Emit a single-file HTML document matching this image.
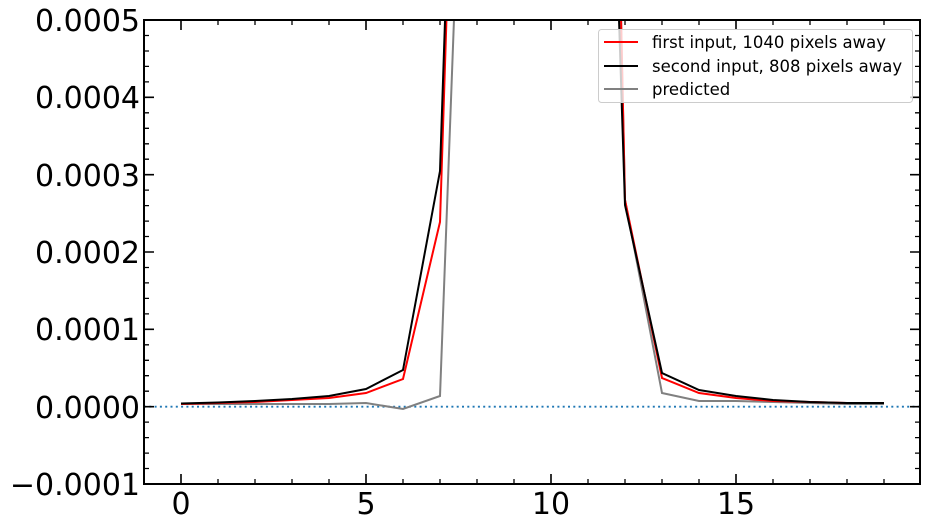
<!DOCTYPE html><html><head><style>body{margin:0;background:#fff}svg{display:block}text{font-family:"DejaVu Sans","Liberation Sans",sans-serif}</style></head><body>
<svg width="930" height="527" xmlns="http://www.w3.org/2000/svg">
<defs><clipPath id="c"><rect x="144" y="20" width="776" height="464"/></clipPath></defs>
<g clip-path="url(#c)" fill="none" stroke-width="2">
<line x1="144" y1="406.7" x2="920" y2="406.7" stroke="#1f77b4" stroke-width="1.8" stroke-dasharray="2,3.3"/>
<polyline stroke="#808080" points="181,404 218,404 255,404 292,404 329,404 366,403 403,409 440,396 477,-600 514,-1500 551,-1500 588,-1500 625,200 662,393 699,401 736,401 773,402 810,403 847,404 884,404"/>
<polyline stroke="#ff0000" points="181,404 218,403 255,402 292,400 329,398 366,393 403,379 440,222 477,-940 514,-1500 551,-1500 588,-1500 625,200 662,378 699,393 736,398 773,401 810,402 847,403 884,403"/>
<polyline stroke="#000" points="181,403.5 218,402.5 255,401 292,399 329,396 366,389 403,370 440,171 477,-940 514,-1500 551,-1500 588,-942 625,205 662,373 699,390 736,396 773,400 810,402 847,403 884,403"/>
</g>
<g stroke="#000" stroke-width="1.3">
<path d="M181,484v-10M366,484v-10M551,484v-10M736,484v-10M181,20v10M366,20v10M551,20v10M736,20v10" stroke-width="1.6"/>
<path d="M218,484v-5M255,484v-5M292,484v-5M329,484v-5M403,484v-5M440,484v-5M477,484v-5M514,484v-5M588,484v-5M625,484v-5M662,484v-5M699,484v-5M773,484v-5M810,484v-5M847,484v-5M884,484v-5M218,20v5M255,20v5M292,20v5M329,20v5M403,20v5M440,20v5M477,20v5M514,20v5M588,20v5M625,20v5M662,20v5M699,20v5M773,20v5M810,20v5M847,20v5M884,20v5"/>
</g>
<g stroke="#000" stroke-width="1.6">
<path d="M144,20h10M144,97.3h10M144,174.7h10M144,252h10M144,329.3h10M144,406.7h10M920,20h-10M920,97.3h-10M920,174.7h-10M920,252h-10M920,329.3h-10M920,406.7h-10"/>
</g>
<g stroke="#000" stroke-width="1.3">
<path d="M144,35.5h5M144,51h5M144,66.4h5M144,81.9h5M144,112.8h5M144,128.3h5M144,143.8h5M144,159.2h5M144,190.1h5M144,205.6h5M144,221.1h5M144,236.5h5M144,267.5h5M144,282.9h5M144,298.4h5M144,313.9h5M144,344.8h5M144,360.3h5M144,375.7h5M144,391.2h5M144,422.1h5M144,437.6h5M144,453.1h5M144,468.5h5
M920,35.5h-5M920,51h-5M920,66.4h-5M920,81.9h-5M920,112.8h-5M920,128.3h-5M920,143.8h-5M920,159.2h-5M920,190.1h-5M920,205.6h-5M920,221.1h-5M920,236.5h-5M920,267.5h-5M920,282.9h-5M920,298.4h-5M920,313.9h-5M920,344.8h-5M920,360.3h-5M920,375.7h-5M920,391.2h-5M920,422.1h-5M920,437.6h-5M920,453.1h-5M920,468.5h-5"/>
</g>
<rect x="144" y="20" width="776" height="464" fill="none" stroke="#000" stroke-width="2"/>
<g font-size="30" fill="#000" text-anchor="end">
<text x="140" y="31">0.0005</text><text x="140" y="108">0.0004</text><text x="140" y="186">0.0003</text><text x="140" y="263">0.0002</text><text x="140" y="340">0.0001</text><text x="140" y="418">0.0000</text><text x="140" y="495">−0.0001</text>
</g>
<g font-size="30" fill="#000" text-anchor="middle">
<text x="181" y="514">0</text><text x="366" y="514">5</text><text x="551" y="514">10</text><text x="736" y="514">15</text>
</g>
<rect x="598.5" y="29.5" width="314" height="73" rx="3" fill="#fff" fill-opacity="0.8" stroke="#ccc"/>
<g stroke-width="2"><line x1="604" y1="42" x2="638" y2="42" stroke="#f00"/><line x1="604" y1="66" x2="638" y2="66" stroke="#000"/><line x1="604" y1="89" x2="638" y2="89" stroke="#808080"/></g>
<g font-size="16.5" fill="#000"><text x="652" y="48">first input, 1040 pixels away</text><text x="652" y="72">second input, 808 pixels away</text><text x="652" y="95">predicted</text></g>
</svg></body></html>
